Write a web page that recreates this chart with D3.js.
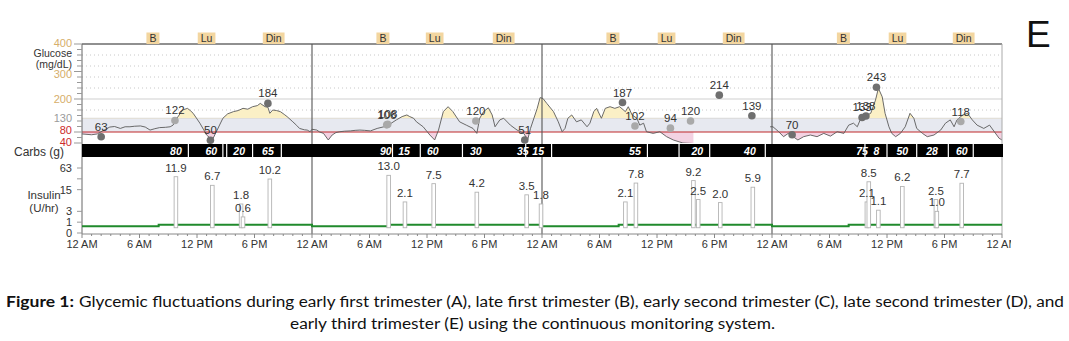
<!DOCTYPE html>
<html><head><meta charset="utf-8">
<script src="https://cdn.jsdelivr.net/npm/d3@7"></script>
<style>
body{margin:0;background:#fff}
svg{display:block}
text{font-family:"Liberation Sans",Arial,sans-serif}
</style>
</head><body>
<svg id="c" width="1069" height="341"></svg>
<script>
// ---------- DATA ----------
// continuous glucose trace (hours from the first midnight, mg/dL); null = sensor gap
const cgmHours = [0.0,1.0,1.6,2.2,2.9,3.4,4.0,4.5,5.0,5.5,6.1,6.6,7.1,7.6,8.1,8.7,9.2,9.5,9.9,10.5,11.0,11.3,11.6,12.3,12.7,13.0,13.6,14.1,14.7,15.2,15.8,16.3,16.8,17.3,17.8,18.3,18.6,19.1,19.4,19.6,19.9,20.3,20.7,21.1,21.4,22.0,22.4,22.7,23.2,23.5,23.8,
 24.0,24.5,24.8,25.2,25.7,26.1,26.5,26.9,27.4,28.0,28.5,29.0,29.5,30.1,30.8,31.5,32.1,32.8,33.4,33.9,34.2,34.6,34.9,35.6,36.3,36.8,37.2,37.7,38.2,38.7,39.4,40.1,40.8,41.2,41.5,41.9,42.4,42.8,43.1,43.6,44.0,44.7,45.4,46.1,46.5,46.8,47.5,47.8,
 48.1,48.5,49.2,49.7,50.1,50.4,50.7,51.1,51.6,52.1,52.7,53.0,53.4,53.7,54.2,54.6,55.1,55.6,56.1,56.7,57.0,57.4,57.9,58.2,58.6,58.9,59.6,60.3,61.0,61.7,62.7,63.8,67.0,71.8,
 72.1,72.7,73.2,73.7,74.2,74.7,75.3,76.0,76.7,77.4,78.1,78.8,79.5,80.0,80.5,80.9,81.2,81.6,82.3,82.8,83.1,83.5,83.8,84.2,84.5,84.9,85.4,85.9,86.4,86.8,87.1,87.7,88.2,88.9,89.6,90.1,90.6,91.0,91.3,91.9,92.4,92.9,93.4,94.1,94.7,95.2,95.7,96.0];
const cgmValues = [73,70,73,85,98,100,93,99,99,101,102,98,87,92,96,97,99,105,130,160,166,158,148,112,88,69,51,87,130,146,154,158,166,163,172,176,184,172,170,148,160,158,154,144,136,117,104,93,88,87,81,
 90,87,80,75,51,69,78,81,83,84,86,87,86,84,93,99,108,124,136,142,136,130,117,99,69,51,87,154,172,154,117,105,93,75,130,154,168,142,99,124,130,105,87,75,51,93,166,205,
 202,184,154,117,81,93,130,142,117,124,99,112,154,166,130,166,172,166,172,154,172,142,130,105,112,81,75,81,63,51,40,38,null,99,
 99,81,63,75,63,51,63,69,63,75,65,81,75,105,112,99,124,136,148,196,239,208,148,99,75,63,75,99,148,130,93,75,63,69,87,112,124,99,124,142,148,124,105,93,105,81,57,51];

// fingerstick glucose readings
const bgHours  = [2.0,9.7,13.4,19.4,31.8,31.9,41.1,46.2,56.4,57.7,61.4,63.5,66.5,69.9,74.1,81.4,81.8,82.9,91.7];
const bgValues = [63,122,50,184,106,108,120,51,187,102,94,120,214,139,70,133,138,243,118];

// meal markers
const mealHours = [7.4,13.0,20.0,31.4,36.8,44.0,55.4,61.0,68.0,79.45,85.1,92.0];
const mealNames = ["B","Lu","Din","B","Lu","Din","B","Lu","Din","B","Lu","Din"];

// carbohydrate entries (g)
const carbHours = [9.8,13.5,16.4,19.4,31.7,33.6,36.6,41.1,46.0,47.6,57.7,64.2,69.7,81.4,82.9,85.6,88.7,91.8];
const carbGrams = [80,60,20,65,90,15,60,30,35,15,55,20,40,75,8,50,28,60];
const carbBreaks = [11.1,14.7,15.1,17.8,20.8,32.4,35.3,39.7,46.3,49.0,59.0,62.3,65.5,71.3,81.7,84.0,87.1,90.4,93.0];

// insulin boluses (U) and basal rate (U/hr)
const bolusHours = [9.8,13.6,16.6,16.8,19.6,32.0,33.7,36.7,41.2,46.4,47.9,56.7,57.8,63.8,64.3,66.6,70.0,81.9,82.1,83.1,85.6,89.1,89.2,91.8];
const bolusUnits = [11.9,6.7,1.8,0.6,10.2,13.0,2.1,7.5,4.2,3.5,1.8,2.1,7.8,9.2,2.5,2.0,5.9,2.1,8.5,1.1,6.2,2.5,1.0,7.7];
const basalHours = [0,8,24,32,48,56,72,80,96];
const basalRates = [0.55,0.7,0.55,0.7,0.55,0.7,0.55,0.7,0.7];

// axes
const glucoseTicks = [400,300,200,130,80,40];
const insulinTicks = [63,15,3,1,0];
const timeTicks = [0,6,12,18,24,30,36,42,48,54,60,66,72,78,84,90,96];
const timeLabels = ["12 AM","6 AM","12 PM","6 PM","12 AM","6 AM","12 PM","6 PM","12 AM","6 AM","12 PM","6 PM","12 AM","6 AM","12 PM","6 PM","12 AM"];
const dayBreaks = [24,48,72];

// ---------- DRAW ----------
const svg = d3.select("#c");
const L = 82, R = 1002;
const x = d3.scaleLinear().domain([0,96]).range([L,R]);
const yG = d3.scaleLinear().domain([40,400]).range([143,44]);
const yI = d3.scaleSymlog().constant(1).domain([0,63]).range([233,168]);

const defs = svg.append("defs");
defs.append("clipPath").attr("id","plot").append("rect").attr("x",L).attr("y",44).attr("width",R-L).attr("height",99);
defs.append("clipPath").attr("id","above").append("rect").attr("x",L).attr("y",44).attr("width",R-L).attr("height",yG(130)-44);
defs.append("clipPath").attr("id","below").append("rect").attr("x",L).attr("y",yG(80)).attr("width",R-L).attr("height",143-yG(80));
defs.append("clipPath").attr("id","xclip").append("rect").attr("x",0).attr("y",230).attr("width",1011).attr("height",30);

// target band
svg.append("rect").attr("x",L).attr("y",yG(130)).attr("width",R-L).attr("height",yG(80)-yG(130)).attr("fill","#e7e9f0");
// dotted grid
[360,320,280,240,160].forEach(v=>{
  svg.append("line").attr("x1",L).attr("x2",R).attr("y1",yG(v)).attr("y2",yG(v))
    .attr("stroke","#c8c8c8").attr("stroke-dasharray","1,3");
});
svg.append("line").attr("x1",L).attr("x2",R).attr("y1",yG(200)).attr("y2",yG(200)).attr("stroke","#cfcfcf");
svg.append("line").attr("x1",L).attr("x2",R).attr("y1",yG(130)).attr("y2",yG(130)).attr("stroke","#d8d8d8");

const cgm = cgmHours.map((h,i)=>({h, g:cgmValues[i]}));
const def = d=>d.g!==null;
const areaAbove = d3.area().defined(def).x(d=>x(d.h)).y0(yG(130)).y1(d=>yG(d.g));
const areaBelow = d3.area().defined(def).x(d=>x(d.h)).y0(yG(80)).y1(d=>yG(d.g));
const gPlot = svg.append("g").attr("clip-path","url(#plot)");
gPlot.append("g").attr("clip-path","url(#above)").append("path").attr("d",areaAbove(cgm)).attr("fill","#fbf0c6");
gPlot.append("g").attr("clip-path","url(#below)").append("path").attr("d",areaBelow(cgm)).attr("fill","#f3d2e2");
gPlot.append("line").attr("x1",L).attr("x2",R).attr("y1",yG(80)).attr("y2",yG(80)).attr("stroke","#c0282a").attr("stroke-width",1.2);
gPlot.append("path").attr("d",d3.line().defined(def).x(d=>x(d.h)).y(d=>yG(d.g))(cgm))
  .attr("fill","none").attr("stroke","#5a5a5a").attr("stroke-width",0.9);

// borders & day separators
svg.append("line").attr("x1",L).attr("x2",R).attr("y1",44).attr("y2",44).attr("stroke","#222").attr("stroke-width",1.2);
svg.append("line").attr("x1",R).attr("x2",R).attr("y1",44).attr("y2",234).attr("stroke","#aaa");
svg.selectAll(".day").data(dayBreaks).join("line").attr("x1",d=>x(d)).attr("x2",d=>x(d)).attr("y1",44).attr("y2",234)
  .attr("stroke","#555").attr("stroke-width",1.1);
svg.append("line").attr("x1",L).attr("x2",L).attr("y1",44).attr("y2",234).attr("stroke","#666");

// fingerstick points
const bg = bgHours.map((h,i)=>({h, v:bgValues[i]}));
svg.selectAll(".bgp").data(bg).join("circle").attr("cx",d=>x(d.h)).attr("cy",d=>yG(d.v)).attr("r",3.8)
  .attr("fill",d=>(d.v>=80&&d.v<=130)?"#a9a9a9":"#6f6f6f");
svg.selectAll(".bgt").data(bg).join("text").attr("x",d=>x(d.h)).attr("y",d=>yG(d.v)-6).attr("text-anchor","middle")
  .attr("font-size",11.5).attr("fill","#333").text(d=>d.v);

// carbs band
svg.append("rect").attr("x",L).attr("y",144).attr("width",R-L+1).attr("height",13).attr("fill","#000");
svg.selectAll(".ct").data(carbHours).join("text").attr("x",d=>x(d)).attr("y",154.5).attr("text-anchor","middle")
  .attr("font-size",10.5).attr("font-weight","bold").attr("font-style","italic").attr("fill","#fff")
  .text((d,i)=>carbGrams[i]);
svg.selectAll(".cb").data(carbBreaks).join("line").attr("x1",d=>x(d)).attr("x2",d=>x(d)).attr("y1",144).attr("y2",157)
  .attr("stroke","#fff").attr("stroke-width",1.2);

// basal
const basal = basalHours.map((h,i)=>({h, r:basalRates[i]}));
svg.append("path").attr("d",d3.line().curve(d3.curveStepAfter).x(d=>x(d.h)).y(d=>yI(d.r))(basal))
  .attr("fill","none").attr("stroke","#208a2c").attr("stroke-width",2);
// bolus bars (delivered over 20 min -> rate = 3 x units)
const bol = bolusHours.map((h,i)=>({h, u:bolusUnits[i]}));
svg.selectAll(".bb").data(bol).join("rect").attr("x",d=>x(d.h)-1.8).attr("width",3.6)
  .attr("y",d=>yI(d.u*3)).attr("height",d=>yI(0.4)-yI(d.u*3))
  .attr("fill","#fff").attr("stroke","#b4b4b4").attr("stroke-width",0.9);
svg.selectAll(".bt").data(bol).join("text").attr("x",d=>x(d.h)).attr("y",d=>yI(d.u*3)-5).attr("text-anchor","middle")
  .attr("font-size",11.5).attr("fill","#333").text(d=>d.u.toFixed(1));

// x axis
svg.append("line").attr("x1",L).attr("x2",R).attr("y1",234).attr("y2",234).attr("stroke","#888");
const xt = svg.append("g").attr("clip-path","url(#xclip)");
xt.selectAll("line").data(d3.range(0,97,1)).join("line").attr("x1",d=>x(d)).attr("x2",d=>x(d))
  .attr("y1",234).attr("y2",d=>d%6===0?238:236).attr("stroke","#888");
xt.selectAll("text").data(timeTicks).join("text").attr("x",d=>x(d)).attr("y",248).attr("text-anchor","middle")
  .attr("font-size",11).attr("fill","#333").text((d,i)=>timeLabels[i]);

// glucose y axis
const gColor = v=> v>=200?"#d6ae6a":(v>=130?"#9a9a9a":"#cc2b2b");
const gOff = {400:2.5, 300:6, 80:1.5, 40:2.5};
svg.selectAll(".gm").data(d3.range(40,401,20)).join("line").attr("x1",d=>glucoseTicks.includes(d)?74:77).attr("x2",L)
  .attr("y1",d=>yG(d)).attr("y2",d=>yG(d)).attr("stroke","#999");
svg.selectAll(".gl").data(glucoseTicks).join("text").attr("x",72).attr("y",d=>yG(d)+(gOff[d]!==undefined?gOff[d]:4)).attr("text-anchor","end")
  .attr("font-size",11).attr("fill",gColor).text(d=>d);
svg.append("text").attr("x",72).attr("y",57).attr("text-anchor","end").attr("font-size",10.5).attr("fill","#333").text("Glucose");
svg.append("text").attr("x",72).attr("y",67.8).attr("text-anchor","end").attr("font-size",10.5).attr("fill","#333").text("(mg/dL)");
svg.append("text").attr("x",64).attr("y",155.5).attr("text-anchor","end").attr("font-size",12).attr("fill","#333").text("Carbs (g)");

// insulin y axis
svg.selectAll(".it").data(insulinTicks).join("line").attr("x1",77).attr("x2",L).attr("y1",d=>yI(d)).attr("y2",d=>yI(d)).attr("stroke","#999");
svg.append("line").attr("x1",77).attr("x2",L).attr("y1",yI(31)).attr("y2",yI(31)).attr("stroke","#999");
svg.selectAll(".il").data(insulinTicks).join("text").attr("x",72).attr("y",d=>yI(d)+4).attr("text-anchor","end")
  .attr("font-size",11).attr("fill","#333").text(d=>d);
svg.append("text").attr("x",44).attr("y",199).attr("text-anchor","middle").attr("font-size",11.5).attr("fill","#333").text("Insulin");
svg.append("text").attr("x",44).attr("y",212).attr("text-anchor","middle").attr("font-size",11.5).attr("fill","#333").text("(U/hr)");

// meal markers
const meals = svg.selectAll(".meal").data(mealHours).join("g");
meals.each(function(h,i){
  const g = d3.select(this);
  const t = g.append("text").attr("x",x(h)).attr("y",41.5).attr("text-anchor","middle").attr("font-size",10.5).attr("fill","#333").text(mealNames[i]);
  const w = t.node().getComputedTextLength();
  g.insert("rect","text").attr("x",x(h)-w/2-3).attr("y",32.5).attr("width",w+6).attr("height",11.5).attr("fill","#f3d6a0");
});

// panel letter
svg.append("text").attr("x",1026).attr("y",47).attr("font-size",37).attr("fill","#111").text("E");

// caption
const capFont = "Lato, 'Open Sans', sans-serif";
svg.append("text").attr("x",6).attr("y",307).style("font-family",capFont).attr("font-size",15.5)
  .attr("font-weight","bold").attr("fill","#111").attr("textLength",68).attr("lengthAdjust","spacingAndGlyphs").text("Figure 1:");
svg.append("text").attr("x",79).attr("y",307).style("font-family",capFont).attr("font-size",15.5)
  .attr("fill","#111").attr("textLength",985).attr("lengthAdjust","spacingAndGlyphs")
  .text("Glycemic fluctuations during early first trimester (A), late first trimester (B), early second trimester (C), late second trimester (D), and");
svg.append("text").attr("x",290).attr("y",329).style("font-family",capFont).attr("font-size",15.5)
  .attr("fill","#111").attr("textLength",485).attr("lengthAdjust","spacingAndGlyphs")
  .text("early third trimester (E) using the continuous monitoring system.");
</script>
</body></html>
